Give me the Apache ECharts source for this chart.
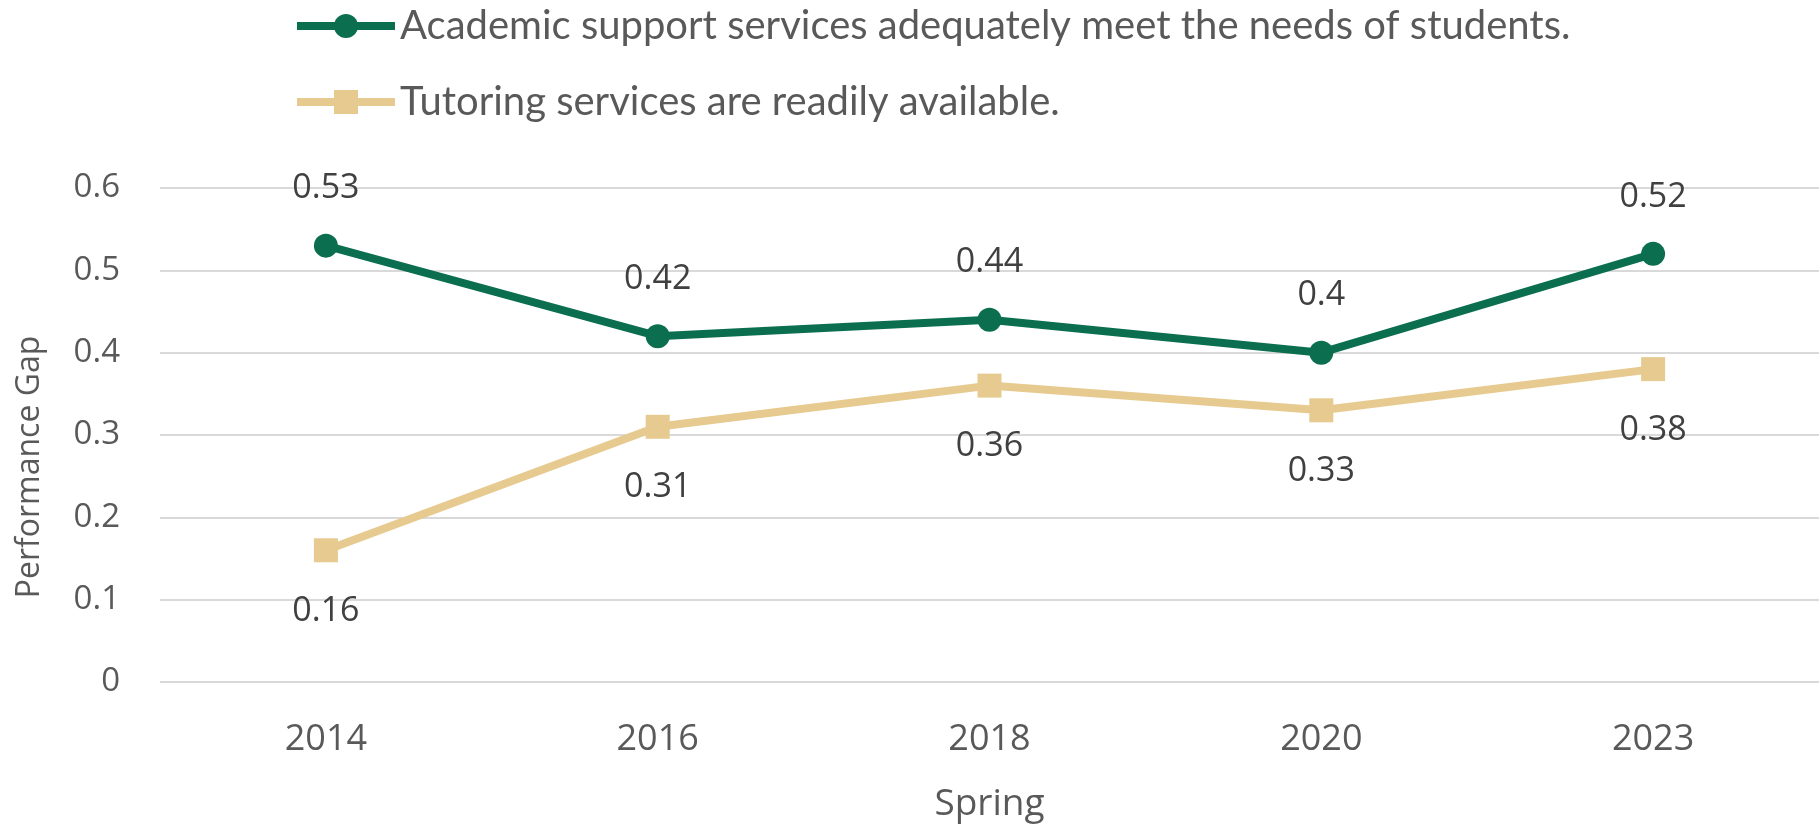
<!DOCTYPE html>
<html>
<head>
<meta charset="utf-8">
<script src="https://cdn.jsdelivr.net/npm/echarts@6/dist/echarts.min.js"></script>
<style>
html,body{margin:0;padding:0;background:#fff;}
#chart{width:1819px;height:829px;}
</style>
</head>
<body>
<div id="chart"></div>
<script>
const categories = ['2014', '2016', '2018', '2020', '2023'];
const academicSupport = [0.53, 0.42, 0.44, 0.40, 0.52];
const tutoring = [0.16, 0.31, 0.36, 0.33, 0.38];
const seriesNames = [
  'Academic support services adequately meet the needs of students.',
  'Tutoring services are readily available.'
];
const yTicks = { min: 0, max: 0.6, interval: 0.1 };

const chart = echarts.init(document.getElementById('chart'));
chart.setOption({
  animation: false,
  backgroundColor: '#ffffff',
  legend: {
    orient: 'vertical',
    left: 288,
    top: 0,
    itemWidth: 98,
    itemHeight: 30,
    itemGap: 34,
    lineStyle: { width: 8 },
    textStyle: { fontFamily: 'Lato', fontSize: 40, color: '#595959', lineHeight: 42 },
    data: seriesNames
  },
  grid: { left: 160, right: 0, top: 188, bottom: 147, containLabel: false },
  xAxis: {
    type: 'category',
    data: categories,
    axisLine: { show: false },
    axisTick: { show: false },
    axisLabel: { margin: 40, fontFamily: 'Open Sans', fontSize: 36, color: '#595959' },
    name: 'Spring',
    nameLocation: 'middle',
    nameGap: 104,
    nameTextStyle: { fontFamily: 'Open Sans', fontSize: 37, color: '#595959' }
  },
  yAxis: {
    type: 'value',
    min: yTicks.min,
    max: yTicks.max,
    interval: yTicks.interval,
    axisLine: { show: false },
    axisTick: { show: false },
    splitLine: { lineStyle: { color: '#D9D9D9', width: 2 } },
    axisLabel: { margin: 40, fontFamily: 'Open Sans', fontSize: 33, color: '#595959' },
    name: 'Performance Gap',
    nameLocation: 'middle',
    nameGap: 114,
    nameTextStyle: { fontFamily: 'Open Sans', fontSize: 32, color: '#595959', padding: [0, 64, 0, 0] }
  },
  series: [
    {
      name: seriesNames[0],
      type: 'line',
      data: academicSupport,
      symbol: 'circle',
      symbolSize: 24,
      color: '#0B6E4F',
      lineStyle: { width: 8, color: '#0B6E4F' },
      itemStyle: { color: '#0B6E4F' },
      label: { show: true, position: 'top', distance: 28, fontFamily: 'Open Sans', fontSize: 34, color: '#404040' },
      z: 3
    },
    {
      name: seriesNames[1],
      type: 'line',
      data: tutoring,
      symbol: 'rect',
      symbolSize: 24,
      color: '#E6CA8F',
      lineStyle: { width: 8, color: '#E6CA8F' },
      itemStyle: { color: '#E6CA8F' },
      label: { show: true, position: 'bottom', distance: 32, fontFamily: 'Open Sans', fontSize: 34, color: '#404040' },
      z: 2
    }
  ]
});
</script>
</body>
</html>
